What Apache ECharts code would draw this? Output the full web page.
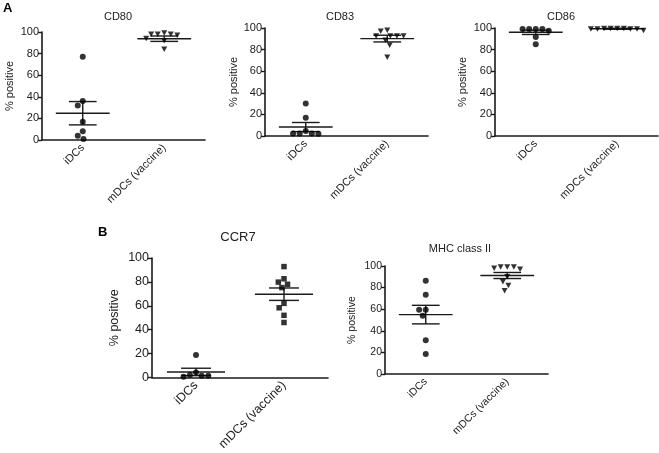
<!DOCTYPE html>
<html><head><meta charset="utf-8">
<script src="https://cdn.jsdelivr.net/npm/echarts@6/dist/echarts.min.js"></script>
<style>html,body{margin:0;padding:0;background:#fff}#c{width:659px;height:453px}</style>
</head><body><div id="c"></div>
<script>
// ---- data ----
const categories = ['iDCs', 'mDCs (vaccine)'];
const yTicks = [0, 20, 40, 60, 80, 100];

const cd80Idc = [77, 36, 32, 17, 8, 4, 1];
const cd80Mdc = [99, 98, 98, 98, 97, 94, 92, 84];
const cd80Mean = [24.8, 93.8];
const cd80Sem = [10.8, 2.5];

const cd83Idc = [30, 17, 4.6, 2.2, 2, 2.2, 2.2];
const cd83Mdc = [97, 98, 92.6, 92.6, 92.6, 92.6, 88.6, 84, 73];
const cd83Mean = [8.3, 90.2];
const cd83Sem = [4.2, 3.1];

const cd86Idc = [99, 99, 99, 99, 97.5, 91.6, 85];
const cd86Mdc = [99.5, 99, 99.5, 99, 97.8, 99.5, 99, 99, 99.5];
const cd86Mean = [96, 99.3];
const cd86Sem = [2, 0.5];

const ccr7Idc = [18.7, 4.1, 1.3, 0.5, 1.3, 2];
const ccr7Mdc = [92.8, 82.6, 78, 79.8, 75.2, 62, 58.3, 52, 46];
const ccr7Mean = [4.6, 69.7];
const ccr7Sem = [3.1, 5.2];

const mhcIdc = [86.3, 73.3, 59.4, 59.4, 54, 31.3, 18.6];
const mhcMdc = [99, 99, 97, 98, 99, 90, 85.4, 82, 77];
const mhcMean = [55, 91.2];
const mhcSem = [8.6, 2.8];

// ---- layout ----
const panels = [
  {title:'CD80', idc:cd80Idc, mdc:cd80Mdc, mean:cd80Mean, sem:cd80Sem, mSym:'tri',
   grid:{left:42, top:32, width:163, height:108}, tPos:[113,6], tFont:11, font:11, nameGap:27},
  {title:'CD83', idc:cd83Idc, mdc:cd83Mdc, mean:cd83Mean, sem:cd83Sem, mSym:'tri',
   grid:{left:265, top:28, width:163, height:108}, tPos:[335,6], tFont:11, font:11, nameGap:25},
  {title:'CD86', idc:cd86Idc, mdc:cd86Mdc, mean:cd86Mean, sem:cd86Sem, mSym:'tri',
   grid:{left:495, top:28, width:163, height:108}, tPos:[556,6], tFont:11, font:11, nameGap:27},
  {title:'CCR7', idc:ccr7Idc, mdc:ccr7Mdc, mean:ccr7Mean, sem:ccr7Sem, mSym:'sq',
   grid:{left:152, top:258, width:176, height:121}, tPos:[233,226], tFont:13, font:12.5, nameGap:31},
  {title:'MHC class II', idc:mhcIdc, mdc:mhcMdc, mean:mhcMean, sem:mhcSem, mSym:'tri',
   grid:{left:385, top:266, width:163, height:108}, tPos:[455,238], tFont:11, font:10.5, nameGap:27}
];

const INK = '#1a1a1a';

// beeswarm layout: each point placed at the smallest horizontal offset that avoids overlap
function swarm(values, center, pxY, pxX) {
  const D = 6.6;
  const idx = values.map((v,i)=>i).sort((a,b)=>values[b]-values[a]);
  const placed = []; // [xpx, ypx]
  const out = [];
  idx.forEach(i => {
    const y = values[i] * pxY;
    const near = placed.filter(p => Math.abs(p[1] - y) < D);
    const cands = [0];
    near.forEach(p => {
      const dx = Math.sqrt(D * D - (p[1] - y) * (p[1] - y));
      cands.push(p[0] + dx, p[0] - dx);
    });
    cands.sort((a, b) => Math.abs(a) - Math.abs(b) || a - b);
    let x = 0;
    for (const c of cands) {
      if (near.every(p => Math.hypot(p[0] - c, p[1] - y) >= D - 1e-6)) { x = c; break; }
    }
    placed.push([x, y]);
    out.push([center + x / pxX, values[i]]);
  });
  return out;
}

function renderErr(params, api) {
  const x = api.value(0), m = api.value(1), s = api.value(2);
  const a = api.coord([x - 0.33, m]), b = api.coord([x + 0.33, m]);
  const t = api.coord([x, m + s]), d = api.coord([x, m - s]);
  const tl = api.coord([x - 0.17, m + s]), tr = api.coord([x + 0.17, m + s]);
  const dl = api.coord([x - 0.17, m - s]), dr = api.coord([x + 0.17, m - s]);
  const st = {stroke: INK, lineWidth: 1.4};
  return {type:'group', children:[
    {type:'line', shape:{x1:a[0], y1:a[1], x2:b[0], y2:b[1]}, style:st},
    {type:'line', shape:{x1:t[0], y1:t[1], x2:d[0], y2:d[1]}, style:st},
    {type:'line', shape:{x1:tl[0], y1:tl[1], x2:tr[0], y2:tr[1]}, style:st},
    {type:'line', shape:{x1:dl[0], y1:dl[1], x2:dr[0], y2:dr[1]}, style:st}
  ]};
}

const option = {animation:false, backgroundColor:'#fff', title:[], grid:[], xAxis:[], yAxis:[], series:[],
  graphic:[
    {type:'text', left:3, top:2, style:{text:'A', font:'bold 13px "Liberation Sans", Arial', fill:'#000'}},
    {type:'text', left:98, top:226, style:{text:'B', font:'bold 13px "Liberation Sans", Arial', fill:'#000'}}
  ]};

panels.forEach((p, g) => {
  const pxY = p.grid.height / 100, pxX = p.grid.width / 2;
  option.title.push({text:p.title, left:p.tPos[0], top:p.tPos[1], textAlign:'center',
    textStyle:{fontFamily:'Liberation Sans', fontWeight:'normal', fontSize:p.tFont, color:'#222'}});
  option.grid.push(Object.assign({containLabel:false}, p.grid));
  option.xAxis.push({type:'category', gridIndex:g, data:categories, boundaryGap:true,
    axisLine:{onZero:false, lineStyle:{color:INK, width:1.6}},
    axisTick:{alignWithLabel:true, length:4, lineStyle:{color:INK, width:1.4}},
    axisLabel:{rotate:45, fontFamily:'Liberation Sans', fontSize:p.font, color:'#222', margin:6},
    splitLine:{show:false}});
  option.xAxis.push({type:'value', gridIndex:g, min:-0.5, max:1.5, show:false});
  option.yAxis.push({type:'value', gridIndex:g, min:yTicks[0], max:yTicks[yTicks.length-1], interval:20,
    name:'% positive', nameLocation:'middle', nameGap:p.nameGap,
    nameTextStyle:{fontFamily:'Liberation Sans', fontSize:p.font, color:'#222'},
    axisLine:{show:true, onZero:false, lineStyle:{color:INK, width:1.6}},
    axisTick:{show:true, length:4, lineStyle:{color:INK, width:1.4}},
    axisLabel:{fontFamily:'Liberation Sans', fontSize:p.font, color:'#222', margin:3},
    splitLine:{show:false}});
  const xv = 2 * g + 1;
  option.series.push({type:'custom', xAxisIndex:xv, yAxisIndex:g, renderItem:renderErr,
    encode:{x:0, y:1}, z:3,
    data:p.mean.map((m, i) => [i, m, p.sem[i]])});
  option.series.push({type:'scatter', xAxisIndex:xv, yAxisIndex:g, symbol:'circle', symbolSize:6,
    itemStyle:{color:'#000'}, z:4, data:swarm(p.idc, 0, pxY, pxX)});
  const isSq = p.mSym === 'sq';
  option.series.push({type:'scatter', xAxisIndex:xv, yAxisIndex:g,
    symbol:isSq ? 'rect' : 'triangle', symbolRotate:isSq ? 0 : 180, symbolSize:isSq ? 5.5 : [6, 5.5],
    itemStyle:{color:'#000'}, z:4, data:swarm(p.mdc, 1, pxY, pxX)});
});

const chart = echarts.init(document.getElementById('c'), null, {renderer:'canvas'});
chart.setOption(option);
</script></body></html>
